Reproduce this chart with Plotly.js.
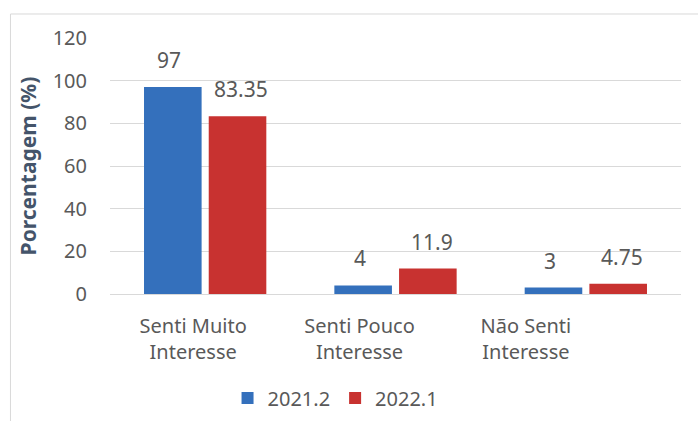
<!DOCTYPE html>
<html>
<head>
<meta charset="utf-8">
<script src="https://cdn.plot.ly/plotly-3.0.1.min.js"></script>
<style>html,body{margin:0;padding:0;background:#fff;}#chart{width:698px;height:421px;}</style>
</head>
<body>
<div id="chart"></div>
<script>
const categories = ["Senti Muito<br>Interesse", "Senti Pouco<br>Interesse", "Não Senti<br>Interesse"];
const seriesNames = ["2021.2", "2022.1"];
const values2021 = [97, 4, 3];
const values2022 = [83.35, 11.9, 4.75];
const labels2021 = ["97", "4", "3"];
const labels2022 = ["83.35", "11.9", "4.75"];
const yTicks = [0, 20, 40, 60, 80, 100, 120];

const FONT = "Noto Sans, sans-serif";
const TXT = "#595959";

const traces = [
  {type: "bar", name: seriesNames[0], x: categories, y: values2021,
   marker: {color: "#3470BC"}, hoverinfo: "none"},
  {type: "bar", name: seriesNames[1], x: categories, y: values2022,
   marker: {color: "#C83230"}, hoverinfo: "none"},
  // invisible carrier for the category labels (drawn on their own axis, as in the reference)
  {type: "scatter", mode: "none", x: categories, y: categories.map(() => 0),
   xaxis: "x2", yaxis: "y2", showlegend: false, hoverinfo: "none"}
];

const annotations = [];
categories.forEach((c, i) => {
  annotations.push({x: c, y: values2021[i], text: labels2021[i], showarrow: false,
    xshift: -36, yshift: 27, yanchor: "middle", font: {family: FONT, size: 21, color: TXT}});
  annotations.push({x: c, y: values2022[i], text: labels2022[i], showarrow: false,
    xshift: 36, yshift: 27, yanchor: "middle", font: {family: FONT, size: 21, color: TXT}});
});

const layout = {
  width: 698, height: 421,
  margin: {l: 110, r: 17, t: 38, b: 127, autoexpand: false},
  paper_bgcolor: "#ffffff", plot_bgcolor: "rgba(0,0,0,0)",
  barmode: "group", bargap: 0.32, bargroupgap: 0.11,
  font: {family: FONT, color: TXT},
  showlegend: true,
  legend: {orientation: "h", x: 0.395, xanchor: "center", y: -0.406, yanchor: "middle",
    font: {family: FONT, size: 20, color: TXT}, itemwidth: 30, traceorder: "normal"},
  xaxis: {type: "category", showticklabels: false, domain: [0, 1], automargin: false,
    showgrid: false, zeroline: false, showline: false, ticks: ""},
  xaxis2: {type: "category", domain: [0, 0.874], anchor: "y2", range: [-0.5, 2.5], automargin: false,
    tickfont: {family: FONT, size: 20, color: TXT},
    showgrid: false, zeroline: false, showline: false, ticks: "", ticklabelstandoff: 18},
  yaxis: {range: [0, 120], tickvals: yTicks, ticktext: yTicks.map(String), automargin: false,
    tickfont: {family: FONT, size: 20, color: TXT},
    showgrid: true, gridcolor: "#D9D9D9", gridwidth: 1, zeroline: true, zerolinecolor: "#D9D9D9",
    showline: false, ticks: "", ticklabelstandoff: 22,
    title: {text: "<b>Porcentagem (%)</b>", font: {family: FONT, size: 21, color: "#44546A"}, standoff: 10}},
  yaxis2: {range: [0, 120], domain: [0, 1], anchor: "x2", visible: false, showgrid: false, zeroline: false, automargin: false},
  annotations: annotations,
  shapes: [
    {type: "line", xref: "paper", yref: "paper", x0: -0.1743, x1: 1.1, y0: 1.0938, y1: 1.0938,
      line: {color: "#D9D9D9", width: 1}},
    {type: "line", xref: "paper", yref: "paper", x0: -0.1743, x1: -0.1743, y0: 1.0938, y1: -0.6,
      line: {color: "#D9D9D9", width: 1}}
  ]
};

Plotly.newPlot("chart", traces, layout, {displayModeBar: false, staticPlot: true});
</script>
</body>
</html>
